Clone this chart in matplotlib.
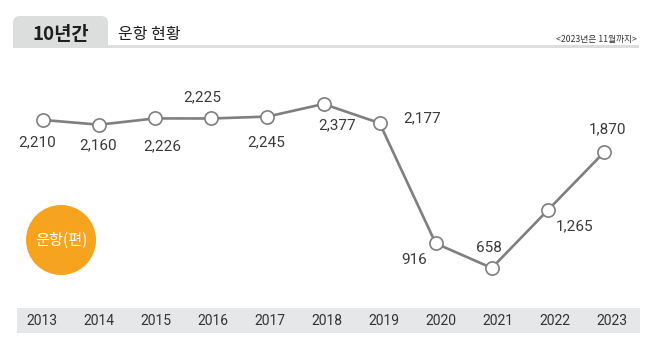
import matplotlib
matplotlib.use("Agg")
import matplotlib.pyplot as plt
from matplotlib.patches import FancyBboxPatch, Rectangle, Ellipse

years = ["2013", "2014", "2015", "2016", "2017", "2018", "2019", "2020", "2021", "2022", "2023"]
flights = [2210, 2160, 2226, 2225, 2245, 2377, 2177, 916, 658, 1265, 1870]
value_labels = ["2,210", "2,160", "2,226", "2,225", "2,245", "2,377", "2,177", "916", "658", "1,265", "1,870"]
title_tab = "10년간"
title_text = "운항 현황"
note_text = "<2023년은 11월까지>"
unit_text = "운항(편)"

# label offsets in pixels (dx, dy) relative to each point
label_offsets = [(-6, -22), (-1, -21), (7, -28), (-9, 21), (-1, -26), (14, -21),
                 (42, 5), (-22, -17), (-3, 20), (27, -16), (3, 23)]

W, H = 651, 347
fig = plt.figure(figsize=(W / 100, H / 100), dpi=100)
fig.patch.set_facecolor("white")

KR = ["Noto Sans CJK KR", "DejaVu Sans"]
NUM = ["Roboto", "DejaVu Sans"]

# background overlay in pixel coordinates
bg = fig.add_axes([0, 0, 1, 1])
bg.set_xlim(0, W)
bg.set_ylim(H, 0)
bg.axis("off")

# header line and tab
bg.add_patch(Rectangle((13, 45), 626, 3, facecolor="#dcdddd", edgecolor="none"))
bg.add_patch(FancyBboxPatch((13, 16), 95, 40, boxstyle="round,pad=0,rounding_size=7",
                            facecolor="#dcdddd", edgecolor="none"))
bg.add_patch(Rectangle((13, 48), 100, 12, facecolor="white", edgecolor="none"))
bg.text(61, 34, title_tab, ha="center", va="center", fontsize=13.5, fontweight="bold",
        color="#1e1e1e", family=KR)
bg.text(118, 34, title_text, ha="left", va="center", fontsize=11.5, fontweight="medium",
        color="#1e1e1e", family=KR)
bg.text(637, 39, note_text, ha="right", va="center", fontsize=6.3, color="#333333", family=KR)

# orange circle
bg.add_patch(Ellipse((61, 240), 70, 70, facecolor="#F6A31E", edgecolor="none"))
bg.text(61, 240, unit_text, ha="center", va="center", fontsize=11, color="white", family=KR)

# year band
band = fig.add_axes([17 / W, 1 - 333 / H, (640 - 17) / W, 25 / H])
band.set_facecolor("#e6e7e8")
band.set_xlim(-25 / 57, 10 + 28 / 57)
band.set_ylim(0, 1)
for s in band.spines.values():
    s.set_visible(False)
band.set_xticks([])
band.set_yticks([])
for i, y in enumerate(years):
    band.text(i, 0.47, y, ha="center", va="center", fontsize=10, color="#333333", family=NUM)

# data axes
ax = fig.add_axes([0, 0, 1, 1])
ax.patch.set_alpha(0)
ax.axis("off")
ppi = 56.1
ax.set_xlim(-43 / ppi, 10 + (W - 604) / ppi)
ax.set_ylim(-170, 3467)
xs = list(range(len(years)))
ax.plot(xs, flights, color="#7f7f7f", linewidth=1.9, zorder=2,
        marker="o", markersize=9.5, markerfacecolor="white",
        markeredgecolor="#7f7f7f", markeredgewidth=1.2)
for x, v, lab, (dx, dy) in zip(xs, flights, value_labels, label_offsets):
    ax.annotate(lab, (x, v), xytext=(dx, dy), textcoords="offset pixels",
                ha="center", va="center", fontsize=11, color="#3a3a3a", family=NUM)

fig.savefig("out.png", dpi=100, facecolor="white")
